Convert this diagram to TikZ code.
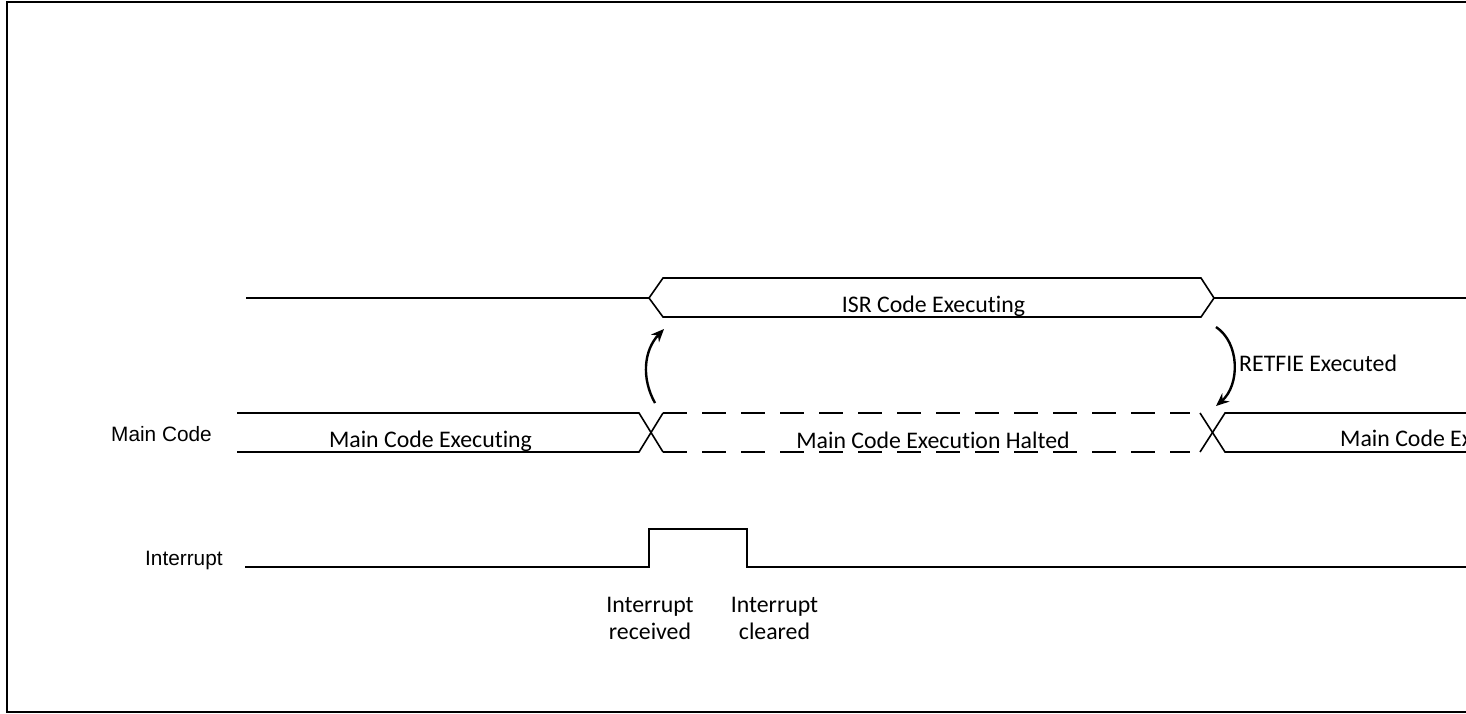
\documentclass[tikz,border=0pt]{standalone}
\usepackage{fontspec}
\setmainfont[Ligatures=NoCommon]{Carlito}
\newfontfamily\arialfont{Liberation Sans}
\usetikzlibrary{arrows.meta}
\tikzset{
  sig/.style={line width=1.6pt, black},
  lbl/.style={inner sep=0pt, anchor=base, font=\fontsize{23.8}{27}\selectfont},
  side/.style={inner sep=0pt, anchor=base west, font=\arialfont\fontsize{20.8}{24}\selectfont},
  flow/.style={line width=2.4pt, -{Stealth[length=13pt,width=11pt]}},
  halt/.style={sig, dash pattern=on 24pt off 15pt},
}
\begin{document}
\begin{tikzpicture}[x=1pt,y=-1pt]
\useasboundingbox (0,0) rectangle (1466,713);
\clip (0,0) rectangle (1466,713);
% frame
\draw[line width=2pt] (7,2) rectangle (1490,712);
% ISR bus
\draw[sig] (246,298) -- (649,298) -- (663,278) -- (1201,278) -- (1214,298) -- (1201,317) -- (663,317) -- (649,298);
\draw[sig] (1214,298) -- (1466,298);
\node[lbl] (isr) at (933.5,312) {ISR Code Executing};
% Main code bus
\draw[sig] (237,413) -- (639,413) -- (663,452);
\draw[sig] (237,452) -- (639,452) -- (663,413);
\draw[halt] (663,413) -- (1190,413);
\draw[halt] (663,452) -- (1190,452);
\draw[sig] (1200,413) -- (1225,452) -- (1466,452);
\draw[sig] (1200,452) -- (1225,413) -- (1466,413);
\node[lbl] (mce) at (430.5,447) {Main Code Executing};
\node[lbl] (halted) at (933,448) {Main Code Execution Halted};
\node[lbl, anchor=base west] (mce2) at (1340,446) {Main Code Executing};
% side labels
\node[side] (mainlbl) at (111,441) {Main Code};
\node[side] (intlbl) at (145,565) {Interrupt};
% Interrupt signal
\draw[sig] (245,567) -- (649,567) -- (649,529) -- (747,529) -- (747,567) -- (1466,567);
\node[lbl, align=center, anchor=base] (recv) at (650,639) {Interrupt\\received};
\node[lbl, align=center, anchor=base] (clr) at (774.5,639) {Interrupt\\cleared};
% arrows
\coordinate (a1s) at (655,403);
\coordinate (a1e) at (664,329);
\coordinate (a2s) at (1216,327);
\coordinate (a2e) at (1216,406);
\draw[flow] (a1s) .. controls (641,378) and (644,350) .. (a1e);
\draw[flow] (a2s) .. controls (1240,343) and (1240,385) .. (a2e);
\node[lbl, anchor=base west] (retfie) at (1239,371) {RETFIE Executed};
\end{tikzpicture}
\end{document}
